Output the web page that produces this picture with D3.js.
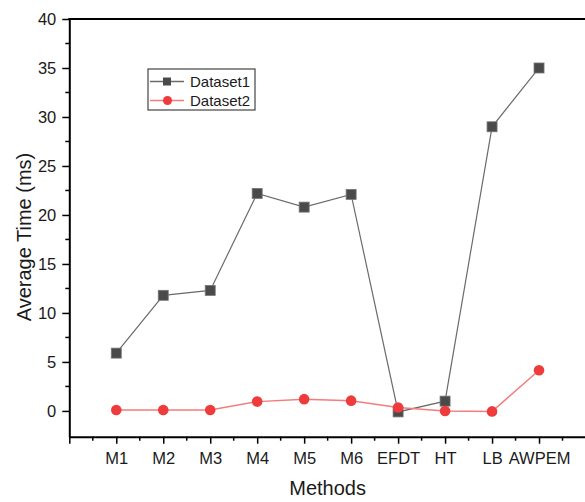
<!DOCTYPE html>
<html>
<head>
<meta charset="utf-8">
<script src="https://cdn.jsdelivr.net/npm/d3@7"></script>
<style>
  body { margin: 0; background: #fff; }
  svg { display: block; font-family: Arial, "Liberation Sans", sans-serif; }
</style>
</head>
<body>
<svg id="chart" width="585" height="502"></svg>
<script>
// chart data
const methods = ['M1', 'M2', 'M3', 'M4', 'M5', 'M6', 'EFDT', 'HT', 'LB', 'AWPEM'];
const dataset1 = [5.9, 11.8, 12.3, 22.2, 20.8, 22.1, -0.1, 1.0, 29.0, 35.0];
const dataset2 = [0.1, 0.1, 0.1, 0.95, 1.2, 1.05, 0.35, 0.0, -0.05, 4.15];
const yTicks = [0, 5, 10, 15, 20, 25, 30, 35, 40];
const seriesNames = ['Dataset1', 'Dataset2'];

const svg = d3.select('#chart');
const plotL = 69.3, plotR = 586, plotT = 19, plotB = 436.7;

const x = d3.scaleLinear().domain([0, 11]).range([plotL, plotR]);
const y = d3.scaleLinear().domain([-2.63, 40]).range([plotB, plotT]);

// minor ticks
const yMinor = d3.range(2.5, 40, 5);
svg.append('g').selectAll('line').data(yMinor).join('line')
  .attr('x1', plotL - 4).attr('x2', plotL)
  .attr('y1', d => y(d)).attr('y2', d => y(d))
  .attr('stroke', '#000').attr('stroke-width', 1.5);
const xMinor = d3.range(0.5, 11, 1);
svg.append('g').selectAll('line').data(xMinor).join('line')
  .attr('x1', d => x(d)).attr('x2', d => x(d))
  .attr('y1', plotB).attr('y2', plotB + 4)
  .attr('stroke', '#000').attr('stroke-width', 1.5);

// y axis
const yAxis = svg.append('g').attr('transform', `translate(${plotL},0)`)
  .call(d3.axisLeft(y).tickValues(yTicks).tickSize(7).tickPadding(6).tickSizeOuter(0));
yAxis.select('.domain').attr('stroke-width', 2);
yAxis.selectAll('.tick line').attr('stroke-width', 1.5);
yAxis.selectAll('.tick text').attr('font-size', 16.5).attr('fill', '#1a1a1a')
  .attr('font-family', 'Arial, "Liberation Sans", sans-serif');

// x axis
const xAxis = svg.append('g').attr('transform', `translate(0,${plotB})`)
  .call(d3.axisBottom(x).tickValues(d3.range(0, 12)).tickSize(7).tickPadding(9).tickSizeOuter(0)
    .tickFormat(d => methods[d - 1] || ''));
xAxis.select('.domain').attr('stroke-width', 2);
xAxis.selectAll('.tick line').attr('stroke-width', 1.5);
xAxis.selectAll('.tick text').attr('font-size', 16.5).attr('fill', '#1a1a1a')
  .attr('font-family', 'Arial, "Liberation Sans", sans-serif');

// top frame line
svg.append('line').attr('x1', plotL - 1).attr('x2', plotR).attr('y1', plotT).attr('y2', plotT)
  .attr('stroke', '#000').attr('stroke-width', 2);

// axis titles
svg.append('text').attr('x', (plotL + plotR) / 2).attr('y', 495)
  .attr('text-anchor', 'middle').attr('font-size', 20).attr('fill', '#1a1a1a').text('Methods');
svg.append('text').attr('transform', `translate(31,237) rotate(-90)`)
  .attr('text-anchor', 'middle').attr('font-size', 20).attr('fill', '#1a1a1a').text('Average Time (ms)');

// series
const line = d3.line().x((d, i) => x(i + 1)).y(d => y(d));

svg.append('path').datum(dataset1).attr('d', line)
  .attr('fill', 'none').attr('stroke', '#6b6b6b').attr('stroke-width', 1.2);
svg.append('g').selectAll('rect').data(dataset1).join('rect')
  .attr('x', (d, i) => x(i + 1) - 5).attr('y', d => y(d) - 5)
  .attr('width', 10).attr('height', 10)
  .attr('fill', '#4a4a4a').attr('stroke', '#777').attr('stroke-width', 0.8);

svg.append('path').datum(dataset2).attr('d', line)
  .attr('fill', 'none').attr('stroke', '#f47c7c').attr('stroke-width', 1.5);
svg.append('g').selectAll('circle').data(dataset2).join('circle')
  .attr('cx', (d, i) => x(i + 1)).attr('cy', d => y(d)).attr('r', 5.3)
  .attr('fill', '#ee3b3b');

// legend
const lg = svg.append('g').attr('transform', 'translate(148,69)');
lg.append('rect').attr('width', 107).attr('height', 41)
  .attr('fill', '#fff').attr('stroke', '#444').attr('stroke-width', 1.2);
const rows = lg.selectAll('g.row').data(seriesNames).join('g').attr('class', 'row')
  .attr('transform', (d, i) => `translate(0,${12.5 + i * 19})`);
rows.append('line').attr('x1', 2).attr('x2', 36)
  .attr('stroke', (d, i) => i ? '#f47c7c' : '#6b6b6b').attr('stroke-width', 1.3);
rows.filter((d, i) => i === 0).append('rect')
  .attr('x', 15).attr('y', -4).attr('width', 8).attr('height', 8).attr('fill', '#4a4a4a');
rows.filter((d, i) => i === 1).append('circle')
  .attr('cx', 19.5).attr('r', 4.5).attr('fill', '#ee3b3b');
rows.append('text').attr('x', 42).attr('y', 5.5).attr('font-size', 15).attr('fill', '#1a1a1a')
  .text(d => d);
</script>
</body>
</html>
